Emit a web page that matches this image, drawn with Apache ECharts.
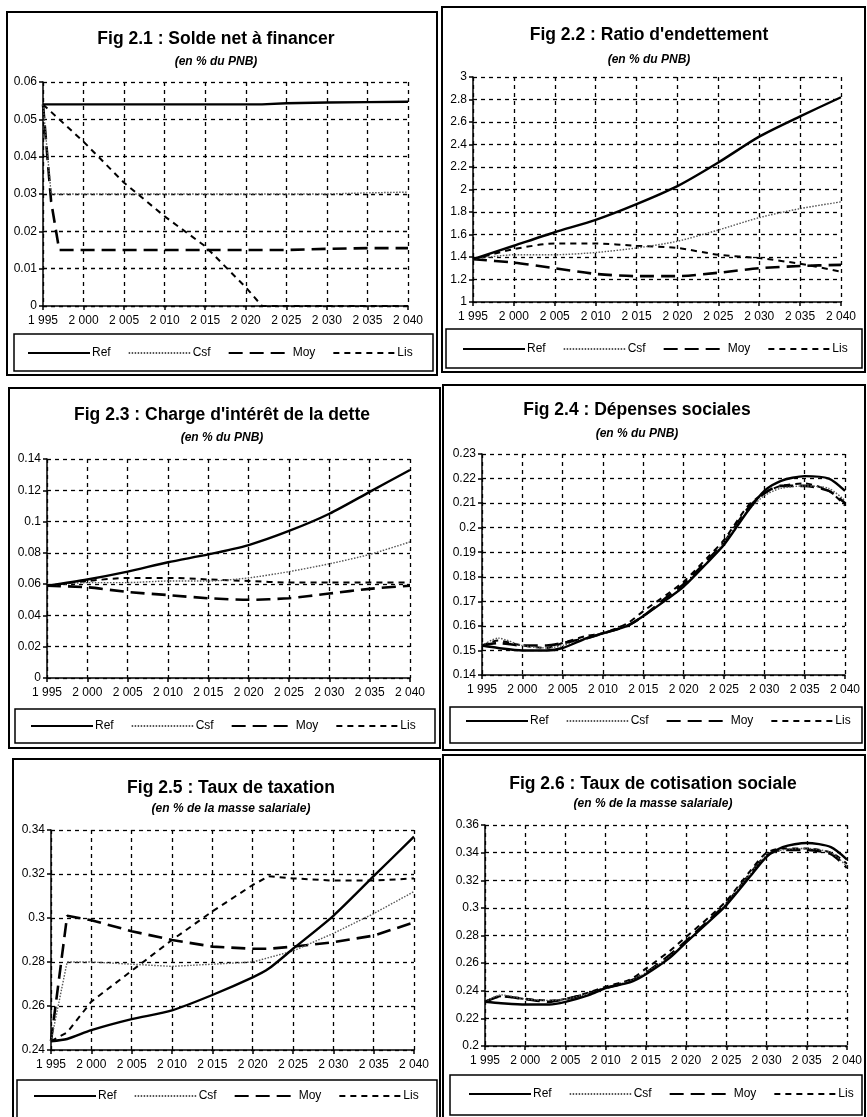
<!DOCTYPE html>
<html>
<head>
<meta charset="utf-8">
<script src="https://cdn.jsdelivr.net/npm/echarts@6/dist/echarts.min.js"></script>
<style>
html, body { margin: 0; padding: 0; background: #fff; }
#chart { width: 867px; height: 1117px; }
</style>
</head>
<body>
<div id="chart"></div>
<script>
// noms des scénarios
var names = ['Ref', 'Csf', 'Moy', 'Lis'];

// Fig 2.1 : Solde net à financer
var years1 = [1995, 1996, 1997, 2000, 2005, 2010, 2015, 2020, 2022, 2025, 2030, 2035, 2040];
var ref1 = [0.054, 0.054, 0.054, 0.054, 0.054, 0.054, 0.054, 0.054, 0.054, 0.0543, 0.0545, 0.0546, 0.0547];
var csf1 = [0.054, 0.030, 0.030, 0.030, 0.030, 0.030, 0.030, 0.030, 0.030, 0.030, 0.030, 0.0303, 0.0305];
var moy1 = [0.054, 0.028, 0.015, 0.015, 0.015, 0.015, 0.015, 0.015, 0.015, 0.015, 0.0153, 0.0155, 0.0155];
var lis1 = [0.054, 0.052, 0.050, 0.044, 0.033, 0.024, 0.016, 0.005, 0, 0, 0, 0, 0];

// Fig 2.2 : Ratio d'endettement
var years2 = [1995, 2000, 2005, 2010, 2015, 2020, 2025, 2030, 2035, 2040];
var ref2 = [1.38, 1.50, 1.62, 1.73, 1.87, 2.03, 2.24, 2.47, 2.65, 2.82];
var csf2 = [1.38, 1.42, 1.42, 1.44, 1.48, 1.54, 1.64, 1.75, 1.83, 1.89];
var moy2 = [1.38, 1.35, 1.30, 1.25, 1.23, 1.23, 1.26, 1.30, 1.32, 1.33];
var lis2 = [1.38, 1.47, 1.52, 1.52, 1.50, 1.48, 1.42, 1.39, 1.34, 1.27];

// Fig 2.3 : Charge d'intérêt de la dette
var years3 = [1995, 2000, 2005, 2010, 2015, 2020, 2025, 2030, 2035, 2040];
var ref3 = [0.059, 0.063, 0.068, 0.074, 0.079, 0.085, 0.094, 0.105, 0.119, 0.133];
var csf3 = [0.059, 0.061, 0.061, 0.062, 0.062, 0.064, 0.068, 0.073, 0.079, 0.087];
var moy3 = [0.059, 0.058, 0.055, 0.053, 0.051, 0.050, 0.051, 0.054, 0.057, 0.059];
var lis3 = [0.059, 0.062, 0.064, 0.064, 0.063, 0.062, 0.061, 0.061, 0.061, 0.061];

// Fig 2.4 : Dépenses sociales
var years4 = [1995, 1997, 2000, 2003, 2005, 2008, 2010, 2013, 2015, 2018, 2020, 2023, 2025, 2028, 2030, 2032, 2035, 2038, 2040];
var ref4 = [0.152, 0.151, 0.150, 0.150, 0.151, 0.155, 0.157, 0.160, 0.164, 0.171, 0.176, 0.186, 0.193, 0.207, 0.215, 0.219, 0.221, 0.220, 0.215];
var csf4 = [0.152, 0.155, 0.152, 0.151, 0.152, 0.155, 0.157, 0.160, 0.164, 0.171, 0.176, 0.186, 0.194, 0.207, 0.213, 0.216, 0.217, 0.216, 0.211];
var moy4 = [0.152, 0.153, 0.152, 0.152, 0.153, 0.155, 0.157, 0.160, 0.164, 0.172, 0.177, 0.187, 0.194, 0.208, 0.214, 0.217, 0.217, 0.215, 0.210];
var lis4 = [0.152, 0.154, 0.152, 0.151, 0.153, 0.156, 0.157, 0.161, 0.166, 0.173, 0.178, 0.188, 0.195, 0.209, 0.214, 0.217, 0.218, 0.215, 0.209];

// Fig 2.5 : Taux de taxation
var years5 = [1995, 1997, 2000, 2005, 2010, 2015, 2020, 2022, 2025, 2030, 2035, 2040];
var ref5 = [0.244, 0.245, 0.249, 0.254, 0.258, 0.265, 0.273, 0.277, 0.286, 0.301, 0.319, 0.337];
var csf5 = [0.244, 0.280, 0.280, 0.279, 0.278, 0.279, 0.280, 0.282, 0.285, 0.293, 0.302, 0.312];
var moy5 = [0.244, 0.301, 0.299, 0.294, 0.290, 0.287, 0.286, 0.286, 0.287, 0.289, 0.292, 0.298];
var lis5 = [0.244, 0.248, 0.262, 0.276, 0.290, 0.303, 0.315, 0.319, 0.318, 0.317, 0.317, 0.318];

// Fig 2.6 : Taux de cotisation sociale
var years6 = [1995, 1997, 2000, 2003, 2005, 2008, 2010, 2013, 2015, 2018, 2020, 2023, 2025, 2028, 2030, 2032, 2035, 2038, 2040];
var ref6 = [0.232, 0.231, 0.230, 0.230, 0.232, 0.237, 0.242, 0.246, 0.252, 0.264, 0.275, 0.291, 0.302, 0.323, 0.337, 0.344, 0.347, 0.344, 0.335];
var csf6 = [0.232, 0.237, 0.234, 0.233, 0.234, 0.238, 0.242, 0.247, 0.253, 0.265, 0.275, 0.291, 0.303, 0.325, 0.338, 0.342, 0.343, 0.340, 0.330];
var moy6 = [0.232, 0.236, 0.234, 0.232, 0.234, 0.238, 0.242, 0.247, 0.253, 0.266, 0.276, 0.292, 0.303, 0.325, 0.338, 0.342, 0.342, 0.339, 0.329];
var lis6 = [0.232, 0.236, 0.234, 0.233, 0.234, 0.239, 0.243, 0.248, 0.256, 0.269, 0.279, 0.294, 0.305, 0.327, 0.340, 0.343, 0.343, 0.340, 0.332];

var font = '"Liberation Sans", Arial, Helvetica, sans-serif';

// mise en page des six cadres
var panels = [
  {title: 'Fig 2.1 : Solde net à financer', sub: '(en % du PNB)', years: years1, data: [ref1, csf1, moy1, lis1],
   min: 0, max: 0.06, step: 0.01, smooth: [false, false, false, false],
   box: [7, 12, 430, 363], cx: 216, ty: 39, sy: 62, grid: [43, 82, 365, 224], lbox: [14, 334, 419, 37], leg: [22, 342]},
  {title: "Fig 2.2 : Ratio d'endettement", sub: '(en % du PNB)', years: years2, data: [ref2, csf2, moy2, lis2],
   min: 1, max: 3, step: 0.2, smooth: [true, true, true, true],
   box: [442, 7, 423, 365], cx: 649, ty: 35, sy: 60, grid: [473, 77, 368, 225], lbox: [446, 329, 416, 39], leg: [457, 338]},
  {title: "Fig 2.3 : Charge d'intérêt de la dette", sub: '(en % du PNB)', years: years3, data: [ref3, csf3, moy3, lis3],
   min: 0, max: 0.14, step: 0.02, smooth: [true, true, true, true],
   box: [9, 388, 431, 360], cx: 222, ty: 415, sy: 438, grid: [47, 459, 363, 219], lbox: [15, 709, 420, 34], leg: [25, 715]},
  {title: 'Fig 2.4 : Dépenses sociales', sub: '(en % du PNB)', years: years4, data: [ref4, csf4, moy4, lis4],
   min: 0.14, max: 0.23, step: 0.01, smooth: [true, true, true, true],
   box: [443, 385, 422, 365], cx: 637, ty: 410, sy: 434, grid: [482, 454, 363, 221], lbox: [450, 707, 412, 36], leg: [460, 710]},
  {title: 'Fig 2.5 : Taux de taxation', sub: '(en % de la masse salariale)', years: years5, data: [ref5, csf5, moy5, lis5],
   min: 0.24, max: 0.34, step: 0.02, smooth: [true, false, false, false],
   box: [13, 759, 427, 362], cx: 231, ty: 788, sy: 809, grid: [51, 830, 363, 220], lbox: [17, 1080, 420, 40], leg: [28, 1085]},
  {title: 'Fig 2.6 : Taux de cotisation sociale', sub: '(en % de la masse salariale)', years: years6, data: [ref6, csf6, moy6, lis6],
   min: 0.2, max: 0.36, step: 0.02, smooth: [true, true, true, true],
   box: [443, 755, 422, 364], cx: 653, ty: 784, sy: 804, grid: [485, 825, 362, 221], lbox: [450, 1075, 412, 40], leg: [463, 1083]}
];

// styles des courbes : Ref plein, Csf pointillé fin, Moy tirets longs, Lis tirets courts
var lineStyles = [
  {type: 'solid', width: 2.4, color: '#000'},
  {type: [1.5, 1.5], width: 1.4, color: '#555'},
  {type: [14, 7], width: 2.6, color: '#000'},
  {type: [6, 5], width: 2, color: '#000'}
];

function yearLabel(v) {
  var s = String(v);
  return s.charAt(0) + ' ' + s.slice(1);
}

var grids = [], xAxes = [], yAxes = [], series = [], legends = [], graphics = [];

panels.forEach(function (p, i) {
  graphics.push({type: 'rect', shape: {x: p.box[0], y: p.box[1], width: p.box[2], height: p.box[3]},
    style: {fill: null, stroke: '#000', lineWidth: 2}, silent: true});
  graphics.push({type: 'rect', shape: {x: p.lbox[0], y: p.lbox[1], width: p.lbox[2], height: p.lbox[3]},
    style: {fill: null, stroke: '#000', lineWidth: 1.5}, silent: true});
  graphics.push({type: 'text', x: p.cx, y: p.ty,
    style: {text: p.title, align: 'center', verticalAlign: 'middle', font: 'bold 17.5px ' + font, fill: '#000'}});
  graphics.push({type: 'text', x: p.cx, y: p.sy,
    style: {text: p.sub, align: 'center', verticalAlign: 'middle', font: 'italic bold 12px ' + font, fill: '#000'}});

  grids.push({left: p.grid[0], top: p.grid[1], width: p.grid[2], height: p.grid[3], containLabel: false});

  var split = {show: true, lineStyle: {color: '#000', type: [4, 4], width: 1.3}};
  xAxes.push({
    type: 'value', gridIndex: i, min: 1995, max: 2040, interval: 5,
    axisLine: {show: true, lineStyle: {color: '#000', width: 1.5}},
    axisTick: {show: true, length: 4, lineStyle: {color: '#000', width: 1.5}},
    axisLabel: {formatter: yearLabel, color: '#000', fontFamily: font, fontSize: 12, margin: 9},
    splitLine: split
  });
  yAxes.push({
    type: 'value', gridIndex: i, min: p.min, max: p.max, interval: p.step,
    axisLine: {show: true, lineStyle: {color: '#000', width: 1.5}},
    axisTick: {show: true, length: 4, lineStyle: {color: '#000', width: 1.5}},
    axisLabel: {color: '#000', fontFamily: font, fontSize: 12, margin: 6},
    splitLine: split
  });

  p.data.forEach(function (vals, k) {
    series.push({
      name: names[k], type: 'line', xAxisIndex: i, yAxisIndex: i,
      data: p.years.map(function (y, j) { return [y, vals[j]]; }),
      symbol: 'none', showSymbol: false,
      smooth: p.smooth[k] ? 0.25 : false,
      lineStyle: lineStyles[k],
      itemStyle: {color: lineStyles[k].color},
      animation: false, z: 4 - k
    });
  });

  legends.push({
    left: p.leg[0], top: p.leg[1], data: names, orient: 'horizontal',
    itemWidth: 62, itemHeight: 12, itemGap: 17, selectedMode: false,
    itemStyle: {opacity: 0},
    textStyle: {color: '#000', fontFamily: font, fontSize: 12, padding: [0, 0, 0, -3]}
  });
});

var chart = echarts.init(document.getElementById('chart'));
chart.setOption({
  backgroundColor: '#fff',
  animation: false,
  grid: grids,
  xAxis: xAxes,
  yAxis: yAxes,
  legend: legends,
  series: series,
  graphic: graphics
});
</script>
</body>
</html>
